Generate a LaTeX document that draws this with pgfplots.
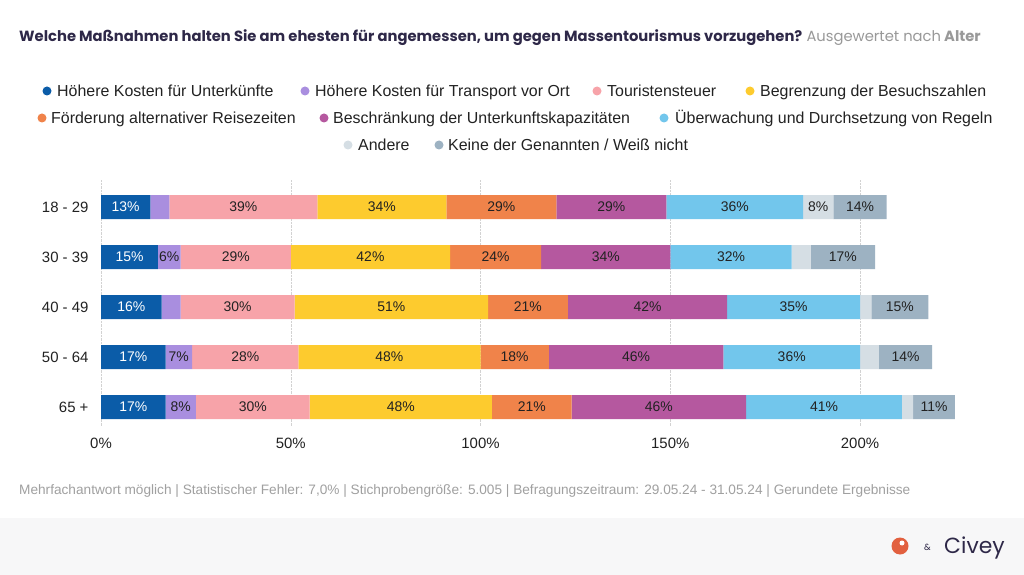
\documentclass[border=0pt]{standalone}
\usepackage{pgfplots}
\pgfplotsset{compat=1.18}
\usepackage{pgfplotstable}
\usepackage{fontspec}
\setmainfont{Liberation Sans}
\newfontfamily\pop{Poppins}
\definecolor{c1}{HTML}{0B5CA8}
\definecolor{c2}{HTML}{A98EDF}
\definecolor{c3}{HTML}{F7A3A9}
\definecolor{c4}{HTML}{FDCB2E}
\definecolor{c5}{HTML}{F0834A}
\definecolor{c6}{HTML}{B5589F}
\definecolor{c7}{HTML}{72C6EC}
\definecolor{c8}{HTML}{D5DEE4}
\definecolor{c9}{HTML}{9DB2C2}
\definecolor{lab}{HTML}{222222}
\definecolor{titc}{HTML}{2E2848}
\definecolor{foot}{HTML}{A0A0A0}
\definecolor{footbg}{HTML}{F7F7F8}
\definecolor{logo}{HTML}{E2603F}

\pgfplotstableread{
r a b c d e f g h i
0 13 5 39 34 29 29 36 8 14
1 15 6 29 42 24 34 32 5 17
2 16 5 30 51 21 42 35 3 15
3 17 7 28 48 18 46 36 5 14
4 17 8 30 48 21 46 41 3 11
}\data

\pgfplotsset{
 lbl/.style={
  visualization depends on={\thisrow{#1}\as\val},
  nodes near coords={\ifdim\val pt<5.5pt \else\pgfmathprintnumber[fixed,precision=0]{\val}\%\fi},
  every node near coord/.append style={anchor=center,
    font=\fontsize{14}{14}\selectfont, text=lab, inner sep=0pt}
 }
}

\begin{document}
\begin{tikzpicture}[x=1bp,y=1bp]
\useasboundingbox (0,0) rectangle (1024,-575);
\fill[white] (0,0) rectangle (1024,-575);
\fill[footbg] (0,-518) rectangle (1024,-575);

% title
\node[anchor=base west, inner sep=0pt] at (19,-42) {\pop\fontsize{14.8}{16}\selectfont\bfseries\color{titc}Welche Maßnahmen halten Sie am ehesten für angemessen, um gegen Massentourismus vorzugehen? {\mdseries\color{gray!80}Ausgewertet nach} {\color{gray!80}Alter}};

% legend
\begin{scope}[every node/.style={anchor=base west, inner sep=0pt, font=\fontsize{16}{18}\selectfont, text=lab}]
\fill[c1] (47,-91) circle (4.5); \node at (57,-96.5) {Höhere Kosten für Unterkünfte};
\fill[c2] (305,-91) circle (4.5); \node at (315,-96.5) {Höhere Kosten für Transport vor Ort};
\fill[c3] (597,-91) circle (4.5); \node at (607,-96.5) {Touristensteuer};
\fill[c4] (750,-91) circle (4.5); \node at (760,-96.5) {Begrenzung der Besuchszahlen};
\fill[c5] (42,-118) circle (4.5); \node at (51,-123.5) {Förderung alternativer Reisezeiten};
\fill[c6] (324,-118) circle (4.5); \node at (333,-123.5) {Beschränkung der Unterkunftskapazitäten};
\fill[c7] (664,-118) circle (4.5); \node at (675,-123.5) {Überwachung und Durchsetzung von Regeln};
\fill[c8] (348,-145) circle (4.5); \node at (358,-150.5) {Andere};
\fill[c9] (439,-145) circle (4.5); \node at (448,-150.5) {Keine der Genannten / Weiß nicht};
\end{scope}

\begin{axis}[
 at={(101bp,-207bp)}, anchor=origin,
 x=3.795bp, y=50bp, y dir=reverse,
 xmin=0, xmax=235, ymin=-0.54, ymax=4.38,
 xbar stacked, bar width=24bp,
 axis line style={draw=none}, tick style={draw=none},
 xtick={0,50,100,150,200}, xmajorgrids,
 major grid style={gray!35, densely dotted},
 ytick={0,...,4}, yticklabels={18 - 29, 30 - 39, 40 - 49, 50 - 64, 65 +},
 xticklabel={\pgfmathprintnumber{\tick}\%},
 /pgf/number format/assume math mode=true,
 ticklabel style={font=\fontsize{15}{16}\selectfont, text=lab},
 xticklabel style={yshift=-9bp},
 yticklabel style={xshift=-9bp},
 clip=false,
 every axis plot/.append style={draw=none},
]
\addplot[fill=c1, lbl=a, every node near coord/.append style={text=white}] table[x=a,y=r]{\data};
\addplot[fill=c2, lbl=b] table[x=b,y=r]{\data};
\addplot[fill=c3, lbl=c] table[x=c,y=r]{\data};
\addplot[fill=c4, lbl=d] table[x=d,y=r]{\data};
\addplot[fill=c5, lbl=e] table[x=e,y=r]{\data};
\addplot[fill=c6, lbl=f] table[x=f,y=r]{\data};
\addplot[fill=c7, lbl=g] table[x=g,y=r]{\data};
\addplot[fill=c8, lbl=h] table[x=h,y=r]{\data};
\addplot[fill=c9, lbl=i] table[x=i,y=r]{\data};
\end{axis}

% footer
\node[anchor=base west, inner sep=0pt, text=foot] at (19,-494) {\fontsize{13.7}{15}\selectfont Mehrfachantwort möglich | Statistischer Fehler: 7,0\% | Stichprobengröße: 5.005 | Befragungszeitraum: 29.05.24 - 31.05.24 | Gerundete Ergebnisse};

% logo
\fill[logo] (900,-546) circle (8.5);
\fill[white] (902,-543) circle (2.5);
\node[anchor=base west, inner sep=0pt, text=titc] at (924,-550) {\pop\fontsize{9}{10}\selectfont \&};
\node[anchor=base west, inner sep=0pt, text=titc] at (944,-553) {\pop\fontsize{22}{24}\selectfont Civey};
\end{tikzpicture}
\end{document}
